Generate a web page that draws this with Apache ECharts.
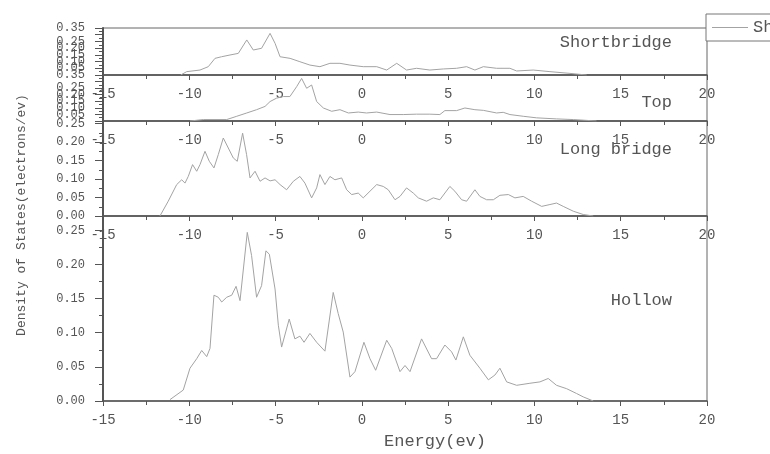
<!DOCTYPE html>
<html>
<head>
<meta charset="utf-8">
<script src="https://cdn.jsdelivr.net/npm/echarts@6/dist/echarts.min.js"></script>
<style>
  html, body { margin: 0; padding: 0; background: #fff; }
  #main { width: 770px; height: 454px; }
</style>
</head>
<body>
<div id="main"></div>
<script>
// 能量 / 态密度 数据
var shortE = [-10.5, -10.15, -9.38, -8.90, -8.51, -8.13, -7.64, -7.16, -6.67, -6.29, -5.81, -5.32, -5.03, -4.74, -4.16, -3.59, -3.01, -2.43, -1.85, -1.27, -0.69, 0.08, 0.86, 1.44, 2.02, 2.59, 3.17, 3.94, 4.72, 5.49, 6.07, 6.55, 7.04, 7.81, 8.58, 8.97, 9.93, 10.90, 12.06, 13.03];
var shortV = [0, 0.025, 0.037, 0.062, 0.124, 0.136, 0.149, 0.161, 0.261, 0.186, 0.199, 0.310, 0.236, 0.136, 0.124, 0.099, 0.074, 0.062, 0.087, 0.087, 0.074, 0.062, 0.062, 0.037, 0.087, 0.037, 0.050, 0.037, 0.045, 0.050, 0.062, 0.037, 0.062, 0.050, 0.050, 0.030, 0.037, 0.025, 0.012, 0];

var topE = [-9.96, -9.19, -7.83, -7.25, -6.67, -6.10, -5.61, -5.32, -4.94, -4.55, -4.17, -3.78, -3.49, -3.20, -2.91, -2.62, -2.23, -1.75, -1.27, -0.78, -0.21, 0.27, 0.86, 1.63, 2.40, 3.17, 3.94, 4.52, 4.81, 5.49, 5.97, 6.55, 7.04, 7.81, 8.19, 8.58, 9.35, 10.13, 11.28, 12.25, 13.6];
var topV = [0, 0.011, 0.011, 0.036, 0.061, 0.086, 0.111, 0.148, 0.174, 0.186, 0.186, 0.261, 0.324, 0.249, 0.274, 0.148, 0.099, 0.074, 0.086, 0.061, 0.068, 0.061, 0.068, 0.049, 0.049, 0.052, 0.052, 0.049, 0.079, 0.079, 0.099, 0.086, 0.081, 0.061, 0.066, 0.049, 0.036, 0.024, 0.016, 0.011, 0];

var longE = [-11.70, -11.22, -10.73, -10.44, -10.25, -10.06, -9.81, -9.57, -9.38, -9.09, -8.84, -8.57, -8.32, -8.03, -7.74, -7.45, -7.22, -6.91, -6.68, -6.48, -6.19, -5.90, -5.61, -5.32, -5.03, -4.74, -4.36, -3.97, -3.59, -3.30, -2.91, -2.62, -2.43, -2.14, -1.85, -1.56, -1.17, -0.88, -0.59, -0.21, 0.08, 0.47, 0.86, 1.24, 1.53, 1.92, 2.21, 2.59, 2.98, 3.27, 3.75, 4.14, 4.52, 5.10, 5.39, 5.78, 6.07, 6.55, 6.84, 7.23, 7.62, 8.00, 8.49, 8.87, 9.35, 9.84, 10.42, 10.90, 11.28, 11.67, 12.25, 12.83, 13.41];
var longV = [0, 0.040, 0.085, 0.098, 0.089, 0.107, 0.139, 0.121, 0.139, 0.175, 0.148, 0.130, 0.166, 0.211, 0.184, 0.157, 0.148, 0.224, 0.166, 0.103, 0.121, 0.094, 0.103, 0.095, 0.098, 0.085, 0.071, 0.094, 0.107, 0.089, 0.049, 0.076, 0.112, 0.085, 0.107, 0.098, 0.103, 0.071, 0.058, 0.062, 0.049, 0.067, 0.085, 0.080, 0.071, 0.044, 0.053, 0.076, 0.062, 0.049, 0.040, 0.049, 0.044, 0.080, 0.067, 0.044, 0.040, 0.071, 0.053, 0.044, 0.044, 0.056, 0.058, 0.049, 0.053, 0.040, 0.026, 0.031, 0.035, 0.026, 0.013, 0.004, 0];

var hollowE = [-11.12, -10.35, -9.96, -9.57, -9.28, -8.99, -8.80, -8.57, -8.32, -8.12, -7.83, -7.54, -7.29, -7.06, -6.64, -6.39, -6.10, -5.81, -5.56, -5.36, -5.03, -4.84, -4.65, -4.21, -3.88, -3.59, -3.35, -3.01, -2.62, -2.14, -1.66, -1.37, -1.08, -0.69, -0.40, 0.12, 0.47, 0.80, 1.44, 1.73, 2.21, 2.50, 2.79, 3.46, 4.04, 4.33, 4.81, 5.20, 5.45, 5.88, 6.26, 6.84, 7.33, 7.71, 8.00, 8.39, 8.97, 9.74, 10.32, 10.80, 11.28, 11.87, 12.44, 12.83, 13.41];
var hollowV = [0.002, 0.016, 0.048, 0.062, 0.074, 0.065, 0.077, 0.155, 0.152, 0.145, 0.152, 0.155, 0.168, 0.147, 0.247, 0.213, 0.152, 0.169, 0.220, 0.215, 0.164, 0.111, 0.079, 0.120, 0.091, 0.095, 0.086, 0.099, 0.086, 0.073, 0.159, 0.128, 0.101, 0.035, 0.043, 0.086, 0.062, 0.045, 0.089, 0.077, 0.043, 0.052, 0.043, 0.091, 0.062, 0.062, 0.082, 0.072, 0.060, 0.094, 0.067, 0.048, 0.031, 0.038, 0.048, 0.028, 0.023, 0.026, 0.028, 0.033, 0.023, 0.018, 0.011, 0.006, 0];

var names = ['Shortbridge', 'Top', 'Long bridge', 'Hollow'];
var yMax = [0.35, 0.35, 0.257, 0.271];

function pairs(xs, ys) {
  var out = [];
  for (var i = 0; i < Math.min(xs.length, ys.length); i++) out.push([xs[i], ys[i]]);
  return out;
}

var font = '"Liberation Mono", "DejaVu Sans Mono", monospace';
var axisColor = '#555';
var lineColor = '#a3a3a3';

var myChart = echarts.init(document.getElementById('main'));

var grids = [
  {left: 103, top: 28, width: 604, height: 47},
  {left: 103, top: 75, width: 604, height: 46},
  {left: 103, top: 121, width: 604, height: 95},
  {left: 103, top: 216, width: 604, height: 185}
];
grids.forEach(function (g) {
  g.show = true;
  g.borderColor = '#666';
  g.borderWidth = 1;
  g.backgroundColor = 'transparent';
});

var xAxes = [], yAxes = [];
for (var i = 0; i < 4; i++) {
  xAxes.push({
    type: 'value', gridIndex: i, min: -15, max: 20, interval: 5,
    axisLine: {onZero: false, lineStyle: {color: axisColor, width: 1.5}},
    axisTick: {length: 5, lineStyle: {color: axisColor}},
    minorTick: {show: true, splitNumber: 2, length: 4, lineStyle: {color: axisColor}},
    splitLine: {show: false},
    axisLabel: {color: '#555', fontFamily: font, fontSize: 14, margin: 12}
  });
  yAxes.push({
    type: 'value', gridIndex: i, min: 0, max: yMax[i], interval: 0.05,
    axisLine: {show: true, onZero: false, lineStyle: {color: axisColor, width: 2}},
    axisTick: {length: 8, lineStyle: {color: axisColor}},
    minorTick: {show: true, splitNumber: 2, length: 4, lineStyle: {color: axisColor}},
    splitLine: {show: false},
    axisLabel: {
      color: '#555', fontFamily: font, fontSize: 12, margin: 18,
      showMaxLabel: i < 2,
      formatter: function (v) { return v.toFixed(2); }
    }
  });
}

var seriesData = [pairs(shortE, shortV), pairs(topE, topV), pairs(longE, longV), pairs(hollowE, hollowV)];
var series = seriesData.map(function (d, i) {
  return {
    name: names[i], type: 'line', xAxisIndex: i, yAxisIndex: i,
    data: d, showSymbol: false, smooth: false,
    lineStyle: {color: lineColor, width: 1},
    itemStyle: {color: lineColor}
  };
});

// 每个面板里的标注文字
var labelPos = [[672, 42], [672, 102], [672, 149], [672, 300]];
var graphics = labelPos.map(function (p, i) {
  return {
    type: 'text', x: p[0], y: p[1],
    style: {text: names[i], font: '17px ' + font, fill: '#555', textAlign: 'right', textVerticalAlign: 'middle'}
  };
});
graphics.push({
  type: 'text', x: 22, y: 215, rotation: Math.PI / 2,
  style: {text: 'Density of States(electrons/ev)', font: '13px ' + font, fill: '#555', textAlign: 'center', textVerticalAlign: 'middle'}
});
graphics.push({
  type: 'text', x: 435, y: 441,
  style: {text: 'Energy(ev)', font: '17px ' + font, fill: '#555', textAlign: 'center', textVerticalAlign: 'middle'}
});

var option = {
  backgroundColor: '#fff',
  animation: false,
  grid: grids,
  xAxis: xAxes,
  yAxis: yAxes,
  legend: {
    data: ['Shortbridge'],
    left: 706, top: 14,
    icon: 'rect', itemWidth: 36, itemHeight: 1,
    padding: [5, 6],
    borderColor: '#777', borderWidth: 1,
    backgroundColor: '#fff',
    textStyle: {fontFamily: font, fontSize: 17, color: '#555'}
  },
  graphic: graphics,
  series: series
};

myChart.setOption(option);
</script>
</body>
</html>
